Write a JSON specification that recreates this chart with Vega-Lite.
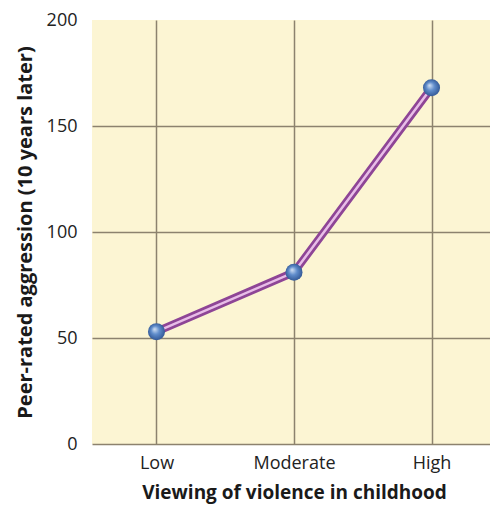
{
  "$schema": "https://vega.github.io/schema/vega-lite/v6.json",
  "width": 404,
  "height": 424,
  "autosize": "none",
  "padding": {"left": 92, "top": 20, "right": 0, "bottom": 61},
  "background": "white",
  "view": {"fill": "#fcf5d3", "stroke": null},
  "config": {"font": "Open Sans"},
  "data": {"values": [
    {"level": "Low", "aggression": 53},
    {"level": "Moderate", "aggression": 81},
    {"level": "High", "aggression": 168}
  ]},
  "encoding": {
    "x": {
      "field": "level", "type": "ordinal", "sort": ["Low", "Moderate", "High"],
      "scale": {"type": "point", "padding": 0.469},
      "axis": {
        "title": "Viewing of violence in childhood",
        "titleFont": "Open Sans", "titleFontSize": 19, "titleFontWeight": "bold", "titleColor": "#1a1a1a",
        "titlePadding": 11,
        "labelFont": "Open Sans", "labelFontSize": 18, "labelColor": "#222222", "labelAngle": 0,
        "labelPadding": 10,
        "domain": false, "ticks": false,
        "grid": true, "gridColor": "#8c826e", "gridWidth": 1.5, "gridOpacity": 1
      }
    },
    "y": {
      "field": "aggression", "type": "quantitative",
      "scale": {"domain": [0, 200], "nice": false, "zero": true},
      "axis": {
        "title": "Peer-rated aggression (10 years later)",
        "titleFont": "Open Sans", "titleFontSize": 20, "titleFontWeight": "bold", "titleColor": "#1a1a1a",
        "titlePadding": 11,
        "labelFont": "Open Sans", "labelFontSize": 18, "labelColor": "#222222",
        "labelPadding": 15,
        "values": [0, 50, 100, 150, 200],
        "gridColor": "#8c826e", "gridWidth": 1.5,
        "gridOpacity": {"condition": {"test": "datum.value === 200", "value": 0}, "value": 1},
        "domain": false, "ticks": false
      }
    }
  },
  "layer": [
    {"mark": {"type": "line", "color": "#8e4596", "strokeWidth": 8, "strokeCap": "round"}},
    {"mark": {"type": "line", "color": "#e8bde8", "strokeWidth": 2.5, "strokeCap": "round"}},
    {"mark": {"type": "point", "filled": true, "size": 290, "opacity": 1, "strokeWidth": 0,
      "fill": {"gradient": "radial", "x1": 0.38, "y1": 0.35, "r1": 0, "x2": 0.5, "y2": 0.5, "r2": 0.55,
        "stops": [{"offset": 0, "color": "#d4e2f5"}, {"offset": 0.45, "color": "#5f8ccb"}, {"offset": 1, "color": "#2d528f"}]}}}
  ]
}
